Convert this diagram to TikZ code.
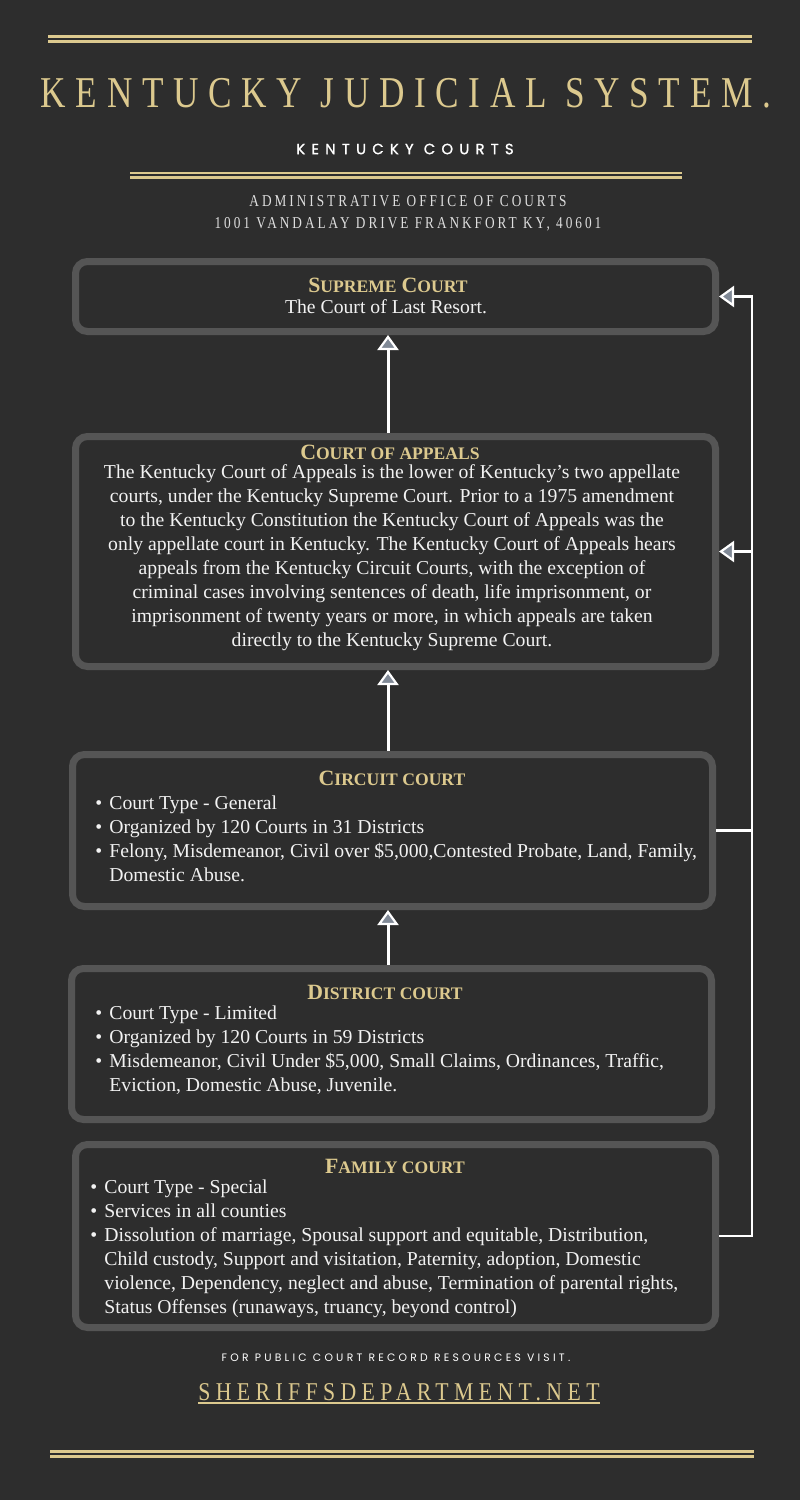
\documentclass[tikz,border=0pt]{standalone}
\usepackage{fontspec}
\setmainfont{Liberation Serif}
\newfontfamily\titlefont[FakeStretch=0.8,LetterSpace=22]{Liberation Serif}
\newfontfamily\officefont[FakeStretch=0.8,LetterSpace=18]{Liberation Serif}
\newfontfamily\sitefont[FakeStretch=0.85,LetterSpace=21]{Liberation Serif}
\newfontfamily\capsfont[LetterSpace=42,FakeBold=1.2]{Poppins}
\newfontfamily\notefont[LetterSpace=30]{Poppins}
\usetikzlibrary{arrows.meta, positioning, calc}
\definecolor{bgDark}{RGB}{45,45,45}
\definecolor{boxGray}{RGB}{85,85,85}
\definecolor{gold}{RGB}{220,201,142}
\definecolor{tipSlate}{RGB}{128,137,150}
\definecolor{paper}{RGB}{242,242,242}
\definecolor{ashText}{RGB}{222,222,222}
\newcommand{\smcap}[2]{{\fontsize{10.9}{12}\selectfont #1}{\fontsize{8.8}{12}\selectfont #2}}
\newcommand{\bul}{\makebox[7pt][l]{\textbullet}}
\newcommand{\hang}{\hspace*{7pt}}

\begin{document}
\begin{tikzpicture}[
        x=0.5pt, y=-0.5pt,
        courtbox/.style={rectangle, draw=boxGray, fill=bgDark, line width=3.5pt, rounded corners=6pt, minimum width=320pt, inner sep=0pt, anchor=north west},
        heading/.style={text=gold, font=\bfseries, inner sep=0pt},
        body/.style={text=paper, font=\fontsize{9.85}{12}\selectfont, inner sep=0pt},
        arrow/.style={-{Triangle[width=10.5pt, length=7.5pt, fill=tipSlate, line width=1.1pt]}, line width=1.5pt, white},
        rail/.style={line width=1.2pt, white},
        goldrule/.style={gold, line width=1.4pt}
    ]
        \fill[bgDark] (0,0) rectangle (800,1500);
        \useasboundingbox (0,0) rectangle (800,1500);

        % Header
        \draw[goldrule] (48,36.3) -- (752,36.3);
        \draw[goldrule] (48,41.5) -- (752,41.5);
        \node[text=gold, font=\titlefont\fontsize{22}{24}\selectfont, inner sep=0pt] (title) at (406,93) {KENTUCKY JUDICIAL SYSTEM.};
        \node[text=white, font=\capsfont\fontsize{7.4}{8}\selectfont, inner sep=0pt] (kyCourts) at (405,149) {KENTUCKY COURTS};
        \draw[goldrule, line width=1.2pt] (130,173) -- (682,173);
        \draw[goldrule, line width=1.2pt] (130,177.3) -- (682,177.3);
        \node[text=ashText, font=\officefont\fontsize{8.3}{10}\selectfont, inner sep=0pt] (office) at (408,201) {ADMINISTRATIVE OFFICE OF COURTS};
        \node[text=ashText, font=\officefont\fontsize{8.3}{10}\selectfont, inner sep=0pt] (address) at (408,224) {1001 VANDALAY DRIVE FRANKFORT KY, 40601};

        % Courts
        \node[courtbox, minimum height=35pt] (supreme) at (72,258) {};
        \node[courtbox, minimum height=115pt] (appeals) at (72,433) {};
        \node[courtbox, minimum height=76pt] (circuit) at (69,751) {};
        \node[courtbox, minimum height=75.5pt] (district) at (68,965) {};
        \node[courtbox, minimum height=91.5pt] (family) at (72,1141) {};

        \node[heading] (supremeHead) at (388,285) {\smcap{S}{UPREME} \smcap{C}{OURT}};
        \node[body] (supremeText) at (386,307) {The Court of Last Resort.};

        \node[heading] (appealsHead) at (390,452) {\smcap{C}{OURT OF APPEALS}};
        \node[body, align=center] (appealsText) at (392,558) {The Kentucky Court of Appeals is the lower of Kentucky's two appellate\\
courts, under the Kentucky Supreme Court. Prior to a 1975 amendment\\
to the Kentucky Constitution the Kentucky Court of Appeals was the\\
only appellate court in Kentucky. The Kentucky Court of Appeals hears\\
appeals from the Kentucky Circuit Courts, with the exception of\\
criminal cases involving sentences of death, life imprisonment, or\\
imprisonment of twenty years or more, in which appeals are taken\\
directly to the Kentucky Supreme Court.};

        \node[heading] (circuitHead) at (392,778) {\smcap{C}{IRCUIT COURT}};
        \node[body, align=left, anchor=west] (circuitList) at (95,838.5) {\bul Court Type - General\\
\bul Organized by 120 Courts in 31 Districts\\
\bul Felony, Misdemeanor, Civil over \$5,000,Contested Probate, Land, Family,\\
\hang Domestic Abuse.};

        \node[heading] (districtHead) at (385,992) {\smcap{D}{ISTRICT COURT}};
        \node[body, align=left, anchor=west] (districtList) at (95,1050.5) {\bul Court Type - Limited\\
\bul Organized by 120 Courts in 59 Districts\\
\bul Misdemeanor, Civil Under \$5,000, Small Claims, Ordinances, Traffic,\\
\hang Eviction, Domestic Abuse, Juvenile.};

        \node[heading] (familyHead) at (395,1166) {\smcap{F}{AMILY COURT}};
        \node[body, align=left, anchor=west] (familyList) at (90,1249) {\bul Court Type - Special\\
\bul Services in all counties\\
\bul Dissolution of marriage, Spousal support and equitable, Distribution,\\
\hang Child custody, Support and visitation, Paternity, adoption, Domestic\\
\hang violence, Dependency, neglect and abuse, Termination of parental rights,\\
\hang Status Offenses (runaways, truancy, beyond control)};

        % Arrows
        \coordinate (spine) at (388,0);
        \coordinate (rail) at (752,0);
        \draw[arrow] (appeals.north -| spine) -- (supreme.south -| spine);
        \draw[arrow] (circuit.north -| spine) -- (appeals.south -| spine);
        \draw[arrow] (district.north -| spine) -- (circuit.south -| spine);
        \draw[arrow, line width=1.2pt] (family.east) -| (supreme.east -| rail) -- (supreme.east);
        \draw[arrow, line width=1.2pt] (appeals.east -| rail) -- (appeals.east);
        \draw[rail] (circuit.east) -- (circuit.east -| rail);

        % Footer
        \node[text=white, font=\notefont\fontsize{5.4}{6}\selectfont, inner sep=0pt] (visit) at (396,1358) {FOR PUBLIC COURT RECORD RESOURCES VISIT.};
        \node[text=gold, font=\sitefont\fontsize{12.8}{14}\selectfont, inner sep=0pt, anchor=base] (site) at (399,1400) {SHERIFFSDEPARTMENT.NET};
        \draw[gold, line width=1.2pt] ([yshift=-1.4pt]site.base west) -- ([yshift=-1.4pt]site.base east);
        \draw[goldrule] (50,1451.7) -- (754,1451.7);
        \draw[goldrule] (50,1456.5) -- (754,1456.5);
    \end{tikzpicture}
\end{document}
